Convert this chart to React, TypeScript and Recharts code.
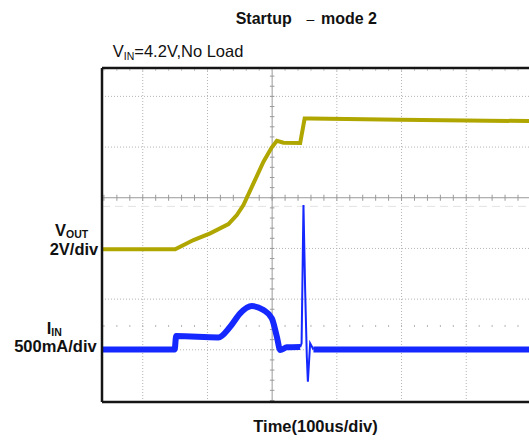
import React from 'react';
import { ComposedChart, Line, XAxis, YAxis, ReferenceLine } from 'recharts';

// Time axis in microseconds (100 us per division), vertical axis in divisions
const voutTime = [-263, -149.9, -121.6, -95.8, -67.5, -54.6, -44.4, -28.9, -13.4, -0.5, 7.3, 17.5, 43.3, 50.2, 58.7, 197.8, 397];
const voutDiv = [-1.018, -1.018, -0.835, -0.702, -0.519, -0.341, -0.144, 0.284, 0.71, 0.994, 1.125, 1.085, 1.079, 1.563, 1.563, 1.537, 1.513];

const iinTimeA = [-263, -150.7, -148.4, -83, -64.9, -49.5, -31.4, -13.4, -0.5, 7.3, 12.4, 22.7, 43.3];
const iinDivA = [-2.995, -2.995, -2.729, -2.755, -2.545, -2.281, -2.137, -2.216, -2.38, -2.743, -3.005, -2.952, -2.946];
const iinTimeB = [63.8, 397];
const iinDivB = [-2.995, -2.995];
const spikeTime = [43.3, 45.5, 48.4, 51, 53.6, 55.2, 58.7, 63.8];
const spikeDiv = [-2.946, -2.873, -0.144, -1.821, -3.137, -3.631, -2.873, -2.995];

const gridX = [-200, -100, 100, 200, 300];
const gridY = [2, 1, -1, -2, -3];

const X_DOMAIN: [number, number] = [-263, 397];
const Y_DOMAIN: [number, number] = [-4.03, 2.56];

const zip = (xs: number[], ys: number[]) => xs.map((t, i) => ({ t, v: ys[i] }));
const voutData = zip(voutTime, voutDiv);
const iinDataA = zip(iinTimeA, iinDivA);
const iinDataB = zip(iinTimeB, iinDivB);
const spikeData = zip(spikeTime, spikeDiv);

const minorX: number[] = [];
for (let t = -260; t <= 396; t += 20) minorX.push(t);
const minorY: number[] = [];
for (let k = -20; k <= 12; k++) minorY.push(k * 0.2);

const FONT = '"Liberation Sans", Arial, Helvetica, sans-serif';
const VOUT_COLOR = '#b0a600';
const IIN_COLOR = '#1428ff';
const FRAME = '#151515';

export default function App() {
  return (
    <div style={{ position: 'absolute', left: 0, top: 0, width: 529, height: 444, background: '#fff' }}>
      <ComposedChart width={529} height={444} margin={{ top: 68, right: 0, bottom: 42, left: 102 }}>
        <XAxis type="number" dataKey="t" domain={X_DOMAIN} allowDataOverflow hide />
        <YAxis type="number" domain={Y_DOMAIN} allowDataOverflow hide />
        {gridX.map((t) => (
          <ReferenceLine key={'gx' + t} x={t} stroke="#b4b4b4" strokeDasharray="1 2" />
        ))}
        {gridY.map((v) => (
          <ReferenceLine key={'gy' + v} y={v} stroke="#b4b4b4" strokeDasharray="1 2" />
        ))}
        <ReferenceLine y={-0.17} stroke="#e2e2e2" strokeDasharray="8 5" />
        <ReferenceLine x={0} stroke="#9a9a9a" />
        <ReferenceLine y={0} stroke="#9a9a9a" />
        {minorX.map((t) => (
          <ReferenceLine key={'mx' + t} segment={[{ x: t, y: -0.06 }, { x: t, y: 0.06 }]} stroke="#9a9a9a" />
        ))}
        {minorY.map((v) => (
          <ReferenceLine key={'my' + v} segment={[{ x: -3.5, y: v }, { x: 3.5, y: v }]} stroke="#9a9a9a" />
        ))}
        {minorX.map((t) => (
          <ReferenceLine key={'mt' + t} segment={[{ x: t, y: 2.5 }, { x: t, y: 2.56 }]} stroke="#c8c8c8" />
        ))}
        {minorX.map((t) => (
          <ReferenceLine key={'md' + t} segment={[{ x: t, y: -2.51 }, { x: t, y: -2.55 }]} stroke="#b4b4b4" />
        ))}
        <Line
          data={voutData}
          dataKey="v"
          type="linear"
          dot={false}
          stroke={VOUT_COLOR}
          strokeWidth={4}
          isAnimationActive={false}
        />
        <Line
          data={iinDataA}
          dataKey="v"
          type="monotone"
          dot={false}
          stroke={IIN_COLOR}
          strokeWidth={6}
          isAnimationActive={false}
        />
        <Line
          data={iinDataB}
          dataKey="v"
          type="linear"
          dot={false}
          stroke={IIN_COLOR}
          strokeWidth={6}
          isAnimationActive={false}
        />
        <Line
          data={spikeData}
          dataKey="v"
          type="linear"
          dot={false}
          stroke={IIN_COLOR}
          strokeWidth={2}
          isAnimationActive={false}
        />
        <ReferenceLine x={X_DOMAIN[0]} stroke={FRAME} strokeWidth={2.5} ifOverflow="visible" />
        <ReferenceLine y={Y_DOMAIN[1]} stroke={FRAME} strokeWidth={2.5} ifOverflow="visible" />
        <ReferenceLine y={Y_DOMAIN[0]} stroke={FRAME} strokeWidth={2.5} ifOverflow="visible" />
      </ComposedChart>
      <svg
        width={529}
        height={444}
        style={{ position: 'absolute', left: 0, top: 0, pointerEvents: 'none' }}
        fontFamily={FONT}
      >
        <text x={235.7} y={24.3} fontSize={16} fontWeight="bold" fill="#111">Startup</text>
        <text x={306.5} y={23.5} fontSize={14} fill="#111">–</text>
        <text x={321} y={24.3} fontSize={16} fontWeight="bold" fill="#111">mode 2</text>

        <text x={112.8} y={57} fontSize={16.5} fill="#111">
          V<tspan fontSize={10.5} dy={3}>IN</tspan>
          <tspan fontSize={16.5} dy={-3}>=4.2V,No Load</tspan>
        </text>

        <text x={55} y={235.7} fontSize={16.5} fontWeight="bold" fill="#111">
          V<tspan fontSize={10.5} dy={2}>OUT</tspan>
        </text>
        <text x={98.3} y={255} fontSize={16.5} fontWeight="bold" textAnchor="end" fill="#111">2V/div</text>

        <text x={46.7} y={334} fontSize={16.5} fontWeight="bold" fill="#111">
          I<tspan fontSize={10.5} dy={1.5}>IN</tspan>
        </text>
        <text x={96.7} y={351.7} fontSize={16.5} fontWeight="bold" textAnchor="end" fill="#111">500mA/div</text>

        <text x={253.3} y={432.3} fontSize={16.5} fontWeight="bold" fill="#111">Time(100us/div)</text>
      </svg>
    </div>
  );
}
